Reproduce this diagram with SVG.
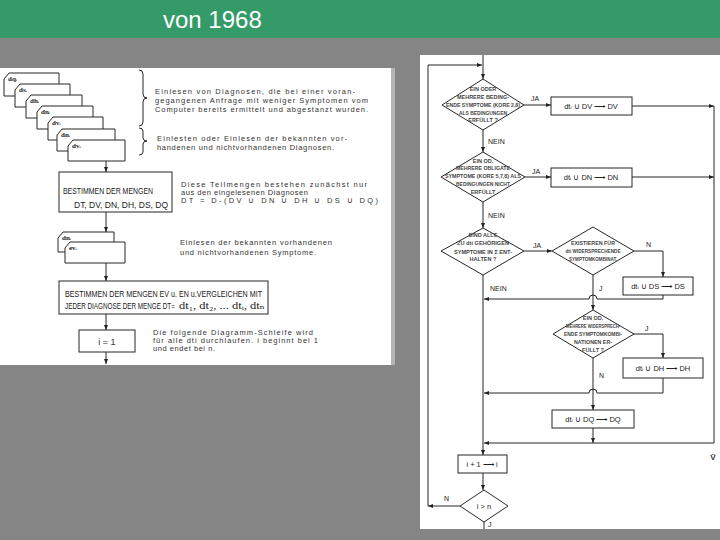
<svg xmlns="http://www.w3.org/2000/svg" width="720" height="540" viewBox="0 0 720 540">
<defs>
<marker id="ah" viewBox="0 0 10 10" refX="10" refY="5" markerWidth="5" markerHeight="5" orient="auto"><path d="M0,1 L10,5 L0,9 z" fill="#222"/></marker>
<style>
.ln{stroke:#262626;stroke-width:1;fill:none}
.box{fill:#fff;stroke:#262626;stroke-width:1}
.t{font-family:"Liberation Sans",Arial,sans-serif;fill:#333}
.s{font-size:7.5px}
.b{font-size:9px;fill:#222}
.d{font-size:5.5px;text-anchor:middle;font-weight:bold;fill:#444}
.c{font-family:"Liberation Serif","DejaVu Serif",serif;font-size:7px;font-weight:bold;fill:#222}
.r{font-size:7.5px;text-anchor:middle;fill:#222}
.l{font-size:7px;fill:#222}
</style>
</defs>
<rect x="0" y="0" width="720" height="540" fill="#858585"/>
<rect x="0" y="0" width="720" height="38" fill="#349a68"/>
<text x="163" y="28" font-family="Liberation Sans,Arial,sans-serif" font-size="24" fill="#fff">von 1968</text>

<!-- left scan -->
<rect x="0" y="68" width="391" height="297" fill="#fff"/>
<rect x="391" y="68" width="4" height="297" fill="#b5b5b5"/>
<!-- right scan -->
<rect x="420" y="55" width="300" height="474" fill="#fff"/>

<g id="cards1">
<path class="box" d="M9,73 H59 V96 H4 V79 Z"/>
<path class="box" d="M20,84 H70 V107 H15 V90 Z"/>
<path class="box" d="M31,95 H82 V118 H26 V101 Z"/>
<path class="box" d="M42,106 H93 V129 H37 V112 Z"/>
<path class="box" d="M53,117 H103 V140 H48 V123 Z"/>
<path class="box" d="M62,129 H115 V151 H57 V135 Z"/>
<path class="box" d="M73,140 H125 V161 H68 V146 Z"/>
<text class="c" x="8" y="81">dqᵢ</text>
<text class="c" x="19" y="92">dsᵢ</text>
<text class="c" x="30" y="103">dhᵢ</text>
<text class="c" x="41" y="114">dnᵢ</text>
<text class="c" x="52" y="125">dvᵢ</text>
<text class="c" x="61" y="137">dnᵢ</text>
<text class="c" x="72" y="148">dvᵢ</text>
</g>
<g id="brace1"><path class="ln" d="M139,70 q4,0 4,4 v20 q0,4 4,4 q-4,0 -4,4 v20 q0,4 -4,4"/></g>
<g id="brace2"><path class="ln" d="M139,128 q4,0 4,3 v7 q0,3 4,3 q-4,0 -4,3 v8 q0,3 -4,3"/></g>
<g id="note1" class="t s">
<text x="155" y="94" textLength="200" lengthAdjust="spacing">Einlesen von Diagnosen, die bei einer voran-</text>
<text x="155" y="103" textLength="213" lengthAdjust="spacing">gegangenen Anfrage mit weniger Symptomen vom</text>
<text x="155" y="112" textLength="213" lengthAdjust="spacing">Computer bereits ermittelt und abgestanzt wurden.</text>
</g>
<g id="note2" class="t s">
<text x="157" y="141" textLength="190" lengthAdjust="spacing">Einlesten oder Einlesen der bekannten vor-</text>
<text x="157" y="150" textLength="177" lengthAdjust="spacing">handenen und nichtvorhandenen Diagnosen.</text>
</g>
<g id="box1">
<rect class="box" x="59" y="172" width="113" height="40"/>
<text class="t b" x="63" y="194" textLength="90" lengthAdjust="spacingAndGlyphs">BESTIMMEN DER MENGEN</text>
<text class="t b" x="74" y="208" textLength="94" lengthAdjust="spacingAndGlyphs">DT, DV, DN, DH, DS, DQ</text>
</g>
<g id="note3" class="t s">
<text x="181" y="187" textLength="186" lengthAdjust="spacing">Diese Teilmengen bestehen zunächst nur</text>
<text x="181" y="195" textLength="127" lengthAdjust="spacing">aus den eingelesenen Diagnosen</text>
<text x="181" y="203" textLength="197" lengthAdjust="spacing">DT = D-(DV ∪ DN   ∪   DH ∪ DS ∪ DQ)</text>
</g>
<g id="cards2">
<path class="box" d="M63,232 H114 V252 H58 V238 Z"/>
<path class="box" d="M70,242 H125 V263 H65 V248 Z"/>
<text class="c" x="62" y="240">dnᵢ</text>
<text class="c" x="69" y="250">evᵢ</text>
</g>
<g id="note4" class="t s">
<text x="180" y="245" textLength="152" lengthAdjust="spacing">Einlesen der bekannten vorhandenen</text>
<text x="180" y="255" textLength="136" lengthAdjust="spacing">und nichtvorhandenen Symptome.</text>
</g>
<g id="box2">
<rect class="box" x="59" y="281" width="209" height="33"/>
<text class="t b" x="65" y="297" textLength="197" lengthAdjust="spacingAndGlyphs">BESTIMMEN DER MENGEN EV u. EN u.VERGLEICHEN MIT</text>
<text class="t b" transform="translate(65,309) scale(0.7,1)" x="0" y="0" textLength="157" lengthAdjust="spacingAndGlyphs">JEDER DIAGNOSE DER MENGE DT=</text>
<text x="179" y="309" font-family="Liberation Serif,DejaVu Serif,serif" font-size="10" fill="#222" textLength="86" lengthAdjust="spacingAndGlyphs">dt₁, dt₂, ... dtᵢ, dtₙ</text>
</g>
<g id="box3">
<rect class="box" x="79" y="330" width="56" height="22"/>
<text class="t" x="107" y="345" font-size="9" text-anchor="middle" fill="#222">i = 1</text>
</g>
<g id="note5" class="t s">
<text x="153" y="335" textLength="160" lengthAdjust="spacing">Die folgende Diagramm-Schleife wird</text>
<text x="153" y="343" textLength="165" lengthAdjust="spacing">für alle dti durchlaufen. i beginnt bei 1</text>
<text x="153" y="351" textLength="62" lengthAdjust="spacing">und endet bei n.</text>
</g>

<!-- right flowchart nodes -->
<g id="dec1">
<polygon class="box" points="483,79 524,105 483,130 442,105"/>
<text class="t d" x="483" y="91">EIN ODER</text>
<text class="t d" x="483" y="99" textLength="52" lengthAdjust="spacingAndGlyphs">MEHRERE BEDING-</text>
<text class="t d" x="483" y="107" textLength="74" lengthAdjust="spacingAndGlyphs">ENDE SYMPTOME (KORE 2,8)</text>
<text class="t d" x="483" y="115" textLength="48" lengthAdjust="spacingAndGlyphs">ALS BEDINGUNGEN</text>
<text class="t d" x="483" y="122">ERFÜLLT ?</text>
</g>
<g id="dv"><rect class="box" x="551" y="97" width="81" height="18"/>
<text class="t r" x="591" y="109">dtᵢ ∪ DV ⟶ DV</text></g>
<g id="dec2">
<polygon class="box" points="483,152 525,177 483,202 441,177"/>
<text class="t d" x="483" y="163">EIN OD.</text>
<text class="t d" x="483" y="170" textLength="54" lengthAdjust="spacingAndGlyphs">MEHRERE OBLIGATE</text>
<text class="t d" x="483" y="178" textLength="76" lengthAdjust="spacingAndGlyphs">SYMPTOME (KORE 5,7,8) ALS</text>
<text class="t d" x="483" y="186" textLength="54" lengthAdjust="spacingAndGlyphs">BEDINGUNGEN NICHT</text>
<text class="t d" x="483" y="194">ERFÜLLT</text>
</g>
<g id="dn"><rect class="box" x="551" y="168" width="81" height="19"/>
<text class="t r" x="591" y="180">dtᵢ ∪ DN ⟶ DN</text></g>
<g id="dec3">
<polygon class="box" points="483,228 524,251 483,275 441,251"/>
<text class="t d" x="483" y="237">SIND ALLE</text>
<text class="t d" x="483" y="245" textLength="52" lengthAdjust="spacingAndGlyphs">ZU dti GEHÖRIGEN</text>
<text class="t d" x="483" y="254" textLength="58" lengthAdjust="spacingAndGlyphs">SYMPTOME IN Σ ENT-</text>
<text class="t d" x="483" y="261">HALTEN ?</text>
</g>
<g id="dec4">
<polygon class="box" points="593,227 634,251 593,275 552,251"/>
<text class="t d" x="593" y="245" textLength="44" lengthAdjust="spacingAndGlyphs">EXISTIEREN FÜR</text>
<text class="t d" x="593" y="253" textLength="55" lengthAdjust="spacingAndGlyphs">dti WIDERSPRECHENDE</text>
<text class="t d" x="593" y="261" textLength="48" lengthAdjust="spacingAndGlyphs">SYMPTOMKOMBINAT.</text>
</g>
<g id="ds"><rect class="box" x="623" y="277" width="70" height="18"/>
<text class="t r" x="658" y="289">dtᵢ ∪ DS ⟶ DS</text></g>
<g id="dec5">
<polygon class="box" points="593,310 634,334 593,358 553,334"/>
<text class="t d" x="593" y="320">EIN OD.</text>
<text class="t d" x="593" y="328" textLength="54" lengthAdjust="spacingAndGlyphs">MEHRERE WIDERSPRECH-</text>
<text class="t d" x="593" y="336" textLength="58" lengthAdjust="spacingAndGlyphs">ENDE SYMPTOMKOMBI-</text>
<text class="t d" x="593" y="344" textLength="38" lengthAdjust="spacingAndGlyphs">NATIONEN ER-</text>
<text class="t d" x="593" y="352">FÜLLT ?</text>
</g>
<g id="dh"><rect class="box" x="623" y="358" width="80" height="20"/>
<text class="t r" x="663" y="371">dtᵢ ∪ DH ⟶ DH</text></g>
<g id="dq"><rect class="box" x="552" y="410" width="82" height="18"/>
<text class="t r" x="593" y="422">dtᵢ ∪ DQ ⟶ DQ</text></g>
<g id="inc"><rect class="box" x="458" y="455" width="49" height="18"/>
<text class="t r" x="482" y="467">i + 1 ⟶ i</text></g>
<g id="dec6">
<polygon class="box" points="484,490 508,506 484,522 460,506"/>
<text class="t r" x="484" y="509">i &gt; n</text>
</g>
<g id="mark"><text class="t" x="713" y="460" font-size="8" font-weight="bold" text-anchor="middle" fill="#333">V̈</text></g>

<g id="connectors">
<path class="ln" d="M106,161 V172" marker-end="url(#ah)"/>
<path class="ln" d="M106,212 V232" marker-end="url(#ah)"/>
<path class="ln" d="M106,263 V281" marker-end="url(#ah)"/>
<path class="ln" d="M106,314 V330" marker-end="url(#ah)"/>
<path class="ln" d="M106,352 V364" marker-end="url(#ah)"/>

<path class="ln" d="M483,55 V79" marker-end="url(#ah)"/>
<path class="ln" d="M428,506 V65 H482" marker-end="url(#ah)"/>
<path class="ln" d="M460,506 H428" marker-end="url(#ah)"/>
<path class="ln" d="M524,105 H551" marker-end="url(#ah)"/>
<path class="ln" d="M632,106 H714" marker-end="url(#ah)"/>
<path class="ln" d="M483,130 V152" marker-end="url(#ah)"/>
<path class="ln" d="M525,177 H551" marker-end="url(#ah)"/>
<path class="ln" d="M632,177 H714" marker-end="url(#ah)"/>
<path class="ln" d="M483,202 V228" marker-end="url(#ah)"/>
<path class="ln" d="M524,251 H552" marker-end="url(#ah)"/>
<path class="ln" d="M634,251 H663 V277" marker-end="url(#ah)"/>
<path class="ln" d="M663,295 V299 H597 a4,4 0 0 0 -8,0 H484" marker-end="url(#ah)"/>
<path class="ln" d="M593,275 V310" marker-end="url(#ah)"/>
<path class="ln" d="M483,275 V455" marker-end="url(#ah)"/>
<path class="ln" d="M634,334 H663 V358" marker-end="url(#ah)"/>
<path class="ln" d="M663,378 V393 H597 a4,4 0 0 0 -8,0 H484" marker-end="url(#ah)"/>
<path class="ln" d="M593,358 V410" marker-end="url(#ah)"/>
<path class="ln" d="M593,428 V443" marker-end="url(#ah)"/>
<path class="ln" d="M714,106 V443 H484" marker-end="url(#ah)"/>
<path class="ln" d="M483,473 V490" marker-end="url(#ah)"/>
<path class="ln" d="M484,522 V529"/>
</g>
<g id="labels" class="t l">
<text x="531" y="101">JA</text>
<text x="488" y="144">NEIN</text>
<text x="532" y="174">JA</text>
<text x="488" y="218">NEIN</text>
<text x="533" y="248">JA</text>
<text x="646" y="247">N</text>
<text x="490" y="291">NEIN</text>
<text x="599" y="291">J</text>
<text x="645" y="331">J</text>
<text x="599" y="378">N</text>
<text x="444" y="501">N</text>
<text x="488" y="527">J</text>
</g>
</svg>
